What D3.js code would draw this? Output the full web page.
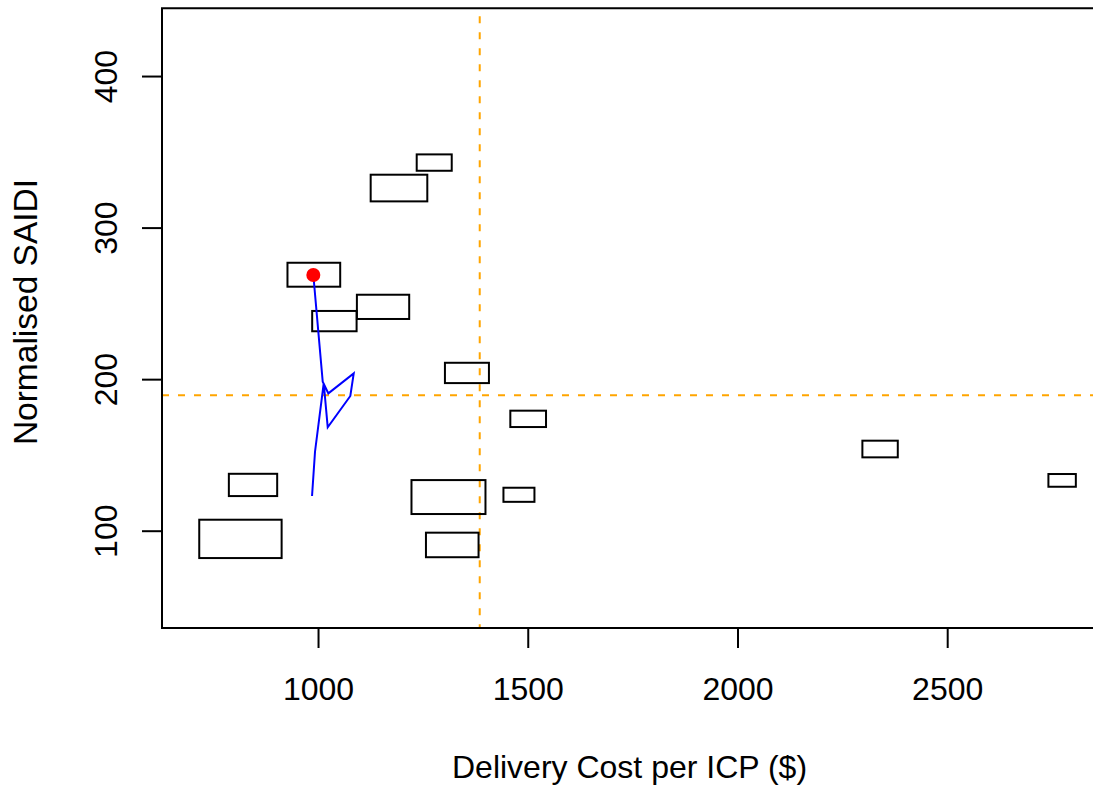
<!DOCTYPE html>
<html>
<head>
<meta charset="utf-8">
<script src="https://cdn.jsdelivr.net/npm/d3@7"></script>
<style>
  html, body { margin: 0; padding: 0; background: #fff; }
  svg { display: block; }
  text { font-family: "Liberation Sans", Arial, Helvetica, sans-serif; fill: #000; }
</style>
</head>
<body>
<svg id="chart" width="1093" height="790"></svg>
<script>
// ---- data ----
const boxCentreX = [1277, 1193, 990, 1155, 1039, 1355, 1501, 845, 815, 1311, 1479, 1320, 2340, 2774];
const boxCentreY = [342.9, 326.1, 268.9, 247.7, 238.3, 204.1, 173.8, 130.2, 94.6, 122.2, 123.7, 90.6, 153.9, 133.2];
const boxWidth   = [83.5, 135, 125.7, 124.7, 105.9, 104.9, 85.1, 115.2, 196.4, 176.4, 73.9, 125.4, 84.4, 65.4];
const boxHeight  = [10.8, 17.6, 15.8, 16.0, 13.4, 13.4, 10.8, 14.7, 25.3, 22.4, 9.3, 16.2, 11.0, 8.4];

const pathX = [988.8, 1011.2, 1024.6, 1085.1, 1077.0, 1023.1, 1013.6, 992.8, 985.7];
const pathY = [268.7, 198.3, 190.6, 203.8, 188.9, 168.2, 197.3, 152.1, 122.9];

const highlightX = [988.8];
const highlightY = [268.7];

const refLineX = 1385.5;
const refLineY = 189.3;

const xTicks = [1000, 1500, 2000, 2500];
const yTicks = [100, 200, 300, 400];

const xLabel = "Delivery Cost per ICP ($)";
const yLabel = "Normalised SAIDI";

// ---- layout ----
const svg = d3.select("#chart");
const plotL = 162, plotT = 8.3, plotB = 628, plotR = 1094;

const x = d3.scaleLinear().domain([628, 2850]).range([plotL, plotR]);
const y = d3.scaleLinear().domain([35.8, 444.7]).range([plotB, plotT]);

const FONT = 32;

// reference lines
svg.append("line")
  .attr("x1", x(refLineX)).attr("x2", x(refLineX))
  .attr("y1", plotT).attr("y2", plotB)
  .attr("stroke", "#FFA500").attr("stroke-width", 2)
  .attr("stroke-dasharray", "7,9").attr("stroke-dashoffset", -8);
svg.append("line")
  .attr("x1", plotL).attr("x2", plotR + 10)
  .attr("y1", y(refLineY)).attr("y2", y(refLineY))
  .attr("stroke", "#FFA500").attr("stroke-width", 2)
  .attr("stroke-dasharray", "7,9");

// rectangles
const boxes = boxCentreX.map((cx, i) => ({cx, cy: boxCentreY[i], w: boxWidth[i], h: boxHeight[i]}));
svg.append("g").selectAll("rect").data(boxes).join("rect")
  .attr("x", d => x(d.cx - d.w / 2))
  .attr("y", d => y(d.cy + d.h / 2))
  .attr("width", d => x(d.cx + d.w / 2) - x(d.cx - d.w / 2))
  .attr("height", d => y(d.cy - d.h / 2) - y(d.cy + d.h / 2))
  .attr("fill", "none").attr("stroke", "#000").attr("stroke-width", 2);

// blue trajectory
const pts = pathX.map((v, i) => [v, pathY[i]]);
svg.append("path")
  .attr("d", d3.line().x(d => x(d[0])).y(d => y(d[1]))(pts))
  .attr("fill", "none").attr("stroke", "#0000FF").attr("stroke-width", 2)
  .attr("stroke-linejoin", "miter");

// red point
svg.append("g").selectAll("circle").data(highlightX.map((v, i) => [v, highlightY[i]])).join("circle")
  .attr("cx", d => x(d[0])).attr("cy", d => y(d[1])).attr("r", 7)
  .attr("fill", "#FF0000");

// frame (left, top, bottom; right side lies outside the window)
svg.append("path")
  .attr("d", `M${plotR + 20},${plotT}H${plotL}V${plotB}H${plotR + 20}`)
  .attr("fill", "none").attr("stroke", "#000").attr("stroke-width", 2);

// x axis
const xAxis = d3.axisBottom(x).tickValues(xTicks).tickSize(20).tickFormat(d3.format("d"));
const gx = svg.append("g").attr("transform", `translate(0,${plotB})`).call(xAxis);
gx.select(".domain").remove();
gx.selectAll(".tick line").attr("stroke", "#000").attr("stroke-width", 2);
gx.selectAll(".tick text").attr("font-size", FONT).attr("fill", "#000")
  .attr("font-family", "Liberation Sans, Arial, sans-serif").attr("dy", null).attr("y", 72);

// y axis
const yAxis = d3.axisLeft(y).tickValues(yTicks).tickSize(20).tickFormat(d3.format("d"));
const gy = svg.append("g").attr("transform", `translate(${plotL},0)`).call(yAxis);
gy.select(".domain").remove();
gy.selectAll(".tick line").attr("stroke", "#000").attr("stroke-width", 2);
gy.selectAll(".tick text")
  .attr("font-size", FONT).attr("fill", "#000")
  .attr("font-family", "Liberation Sans, Arial, sans-serif")
  .attr("x", null).attr("dy", null)
  .attr("text-anchor", "middle")
  .attr("transform", "translate(-45.5,0) rotate(-90)");

// axis titles
svg.append("text")
  .attr("x", (plotL + 1093) / 2 + 2).attr("y", 778)
  .attr("text-anchor", "middle").attr("font-size", FONT)
  .text(xLabel);
svg.append("text")
  .attr("transform", `translate(36.5,312) rotate(-90)`)
  .attr("text-anchor", "middle").attr("font-size", 33.5)
  .text(yLabel);
</script>
</body>
</html>
